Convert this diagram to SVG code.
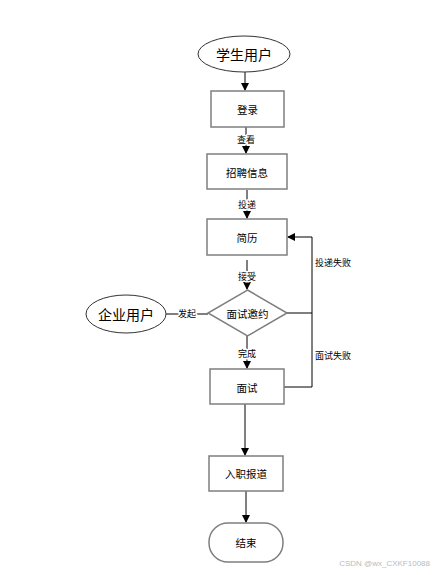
<svg xmlns="http://www.w3.org/2000/svg" width="434" height="575" viewBox="0 0 434 575">
<style>
.box{fill:#fff;stroke:#7f7f7f;stroke-width:1.5}
.shape{fill:#fff;stroke:#333;stroke-width:1}
.t{font-family:"Noto Sans CJK SC","Liberation Sans",sans-serif;font-size:10.5px;fill:#000;text-anchor:middle;dominant-baseline:central}
.big{font-size:14px}
.lbl{font-family:"Noto Sans CJK SC","Liberation Sans",sans-serif;font-size:9px;fill:#000;dominant-baseline:central}
.on{text-anchor:middle;stroke:#fff;stroke-width:3px;paint-order:stroke;stroke-linejoin:round}
.c{fill:none;stroke:#000;stroke-width:1}
.wm{font-family:"Liberation Sans",sans-serif;font-size:8px;fill:#bbb;text-anchor:end}
</style>
<defs>
<marker id="arr" markerWidth="8" markerHeight="8" refX="7" refY="4" orient="auto" markerUnits="userSpaceOnUse">
<path d="M0,0 L8,4 L0,8 Z" fill="#000"/>
</marker>
</defs>
<rect width="434" height="575" fill="#fff"/>
<g id="connectors">
<path class="c" d="M245,72 V90" marker-end="url(#arr)"/>
<path class="c" d="M246,127 V153" marker-end="url(#arr)"/>
<path class="c" d="M247,190 V218" marker-end="url(#arr)"/>
<path class="c" d="M247,260 V289" marker-end="url(#arr)"/>
<path class="c" d="M166,314 H208"/>
<path class="c" d="M247,336 V368" marker-end="url(#arr)"/>
<path class="c" d="M287,313 H312"/>
<path class="c" d="M284,387 H312 V237 H288" marker-end="url(#arr)"/>
<path class="c" d="M245,404 V455" marker-end="url(#arr)"/>
<path class="c" d="M246,491 V522" marker-end="url(#arr)"/>
<text class="lbl on" x="246" y="139">查看</text>
<text class="lbl on" x="247" y="204">投递</text>
<text class="lbl on" x="247" y="276">接受</text>
<text class="lbl on" x="187" y="313">发起</text>
<text class="lbl on" x="247" y="353">完成</text>
<text class="lbl" x="315" y="262">投递失败</text>
<text class="lbl" x="315" y="355">面试失败</text>
</g>
<g id="student">
<ellipse class="shape" cx="244" cy="54" rx="46" ry="18"/>
<text class="t big" x="244" y="54">学生用户</text>
</g>
<g id="login">
<rect class="box" x="211" y="91" width="73" height="36"/>
<text class="t" x="247.5" y="109">登录</text>
</g>
<g id="jobinfo">
<rect class="box" x="207" y="154" width="80" height="35"/>
<text class="t" x="247" y="172">招聘信息</text>
</g>
<g id="resume">
<rect class="box" x="207" y="219" width="80" height="36"/>
<text class="t" x="247" y="237">简历</text>
</g>
<g id="company">
<ellipse class="shape" cx="126" cy="314" rx="40" ry="19"/>
<text class="t big" x="126" y="314">企业用户</text>
</g>
<g id="invite">
<polygon class="box" points="247.5,290 287,313 247.5,336 208,313"/>
<text class="t" x="247.5" y="313">面试邀约</text>
</g>
<g id="interview">
<rect class="box" x="210" y="369" width="74" height="35"/>
<text class="t" x="247" y="387">面试</text>
</g>
<g id="onboard">
<rect class="box" x="209" y="456" width="74" height="35"/>
<text class="t" x="246" y="473.5">入职报道</text>
</g>
<g id="end">
<rect class="box" x="209" y="523" width="74" height="39" rx="19" ry="19"/>
<text class="t" x="246" y="542.5">结束</text>
</g>
<text class="wm" x="430" y="566">CSDN @wx_CXKF10088</text>
</svg>
